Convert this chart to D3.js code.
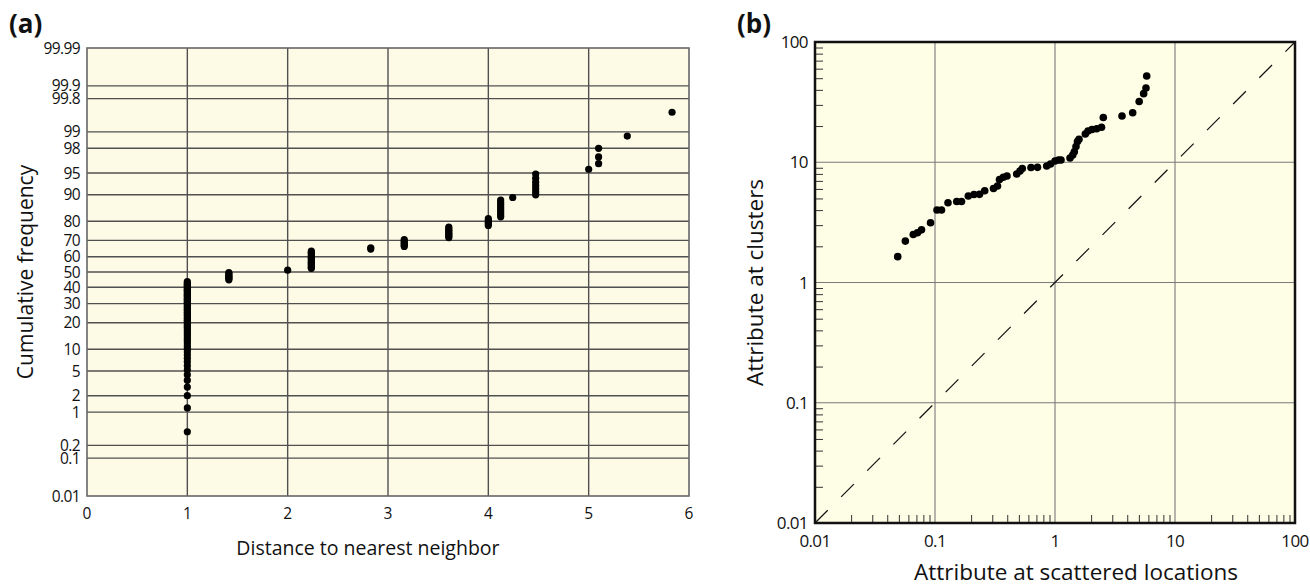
<!DOCTYPE html>
<html>
<head>
<meta charset="utf-8">
<script src="https://cdn.jsdelivr.net/npm/d3@7"></script>
<style>
  body { margin: 0; background: #ffffff; }
  svg { display: block; }
  text { font-family: "Open Sans", sans-serif; fill: #111; }
</style>
</head>
<body>
<svg id="chart" width="1310" height="586"></svg>
<script>
// ---------- Panel (a): nearest-neighbour distances on a probability scale ----------
const distances = [1, 1.414, 2, 2.236, 2.828, 3.162, 3.606, 4, 4.123, 4.243, 4.472, 5, 5.099, 5.385, 5.831];
// cumulative frequency (%) of every observation, grouped by distance
const cumFreq = [
  [0.4, 1.2, 2.0, 2.8, 3.6, 4.4, 5.2, 6.0, 6.8, 7.6, 8.4, 9.2, 10.0, 10.8, 11.6, 12.4, 13.2, 14.0, 14.8,
   15.6, 16.4, 17.2, 18.0, 18.8, 19.6, 20.4, 21.2, 22.0, 22.8, 23.6, 24.4, 25.2, 26.0, 26.8, 27.6, 28.4,
   29.2, 30.0, 30.8, 31.6, 32.4, 33.2, 34.0, 34.8, 35.6, 36.4, 37.2, 38.0, 38.8, 39.6, 40.4, 41.2, 42.0,
   42.8, 43.6],
  [44.8, 45.6, 46.4, 47.2, 48.0, 48.8, 49.6],
  [51.2],
  [52.4, 53.2, 54.0, 54.8, 55.6, 56.4, 57.2, 58.0, 58.8, 59.6, 60.4, 61.2, 62.0, 62.8, 63.6],
  [64.8, 65.6],
  [66.4, 67.2, 68.0, 68.8, 69.6, 70.4],
  [71.6, 72.4, 73.2, 74.0, 74.8, 75.6, 76.4, 77.2],
  [78.0, 78.8, 79.6, 80.4, 81.2],
  [82.0, 82.8, 83.6, 84.4, 85.2, 86.0, 86.8, 87.6, 88.4],
  [89.2],
  [90.0, 90.8, 91.6, 92.4, 93.2, 94.0, 94.8],
  [95.6],
  [96.4, 97.2, 98.0],
  [98.8],
  [99.6]
];
const probTicks = [0.01, 0.1, 0.2, 1, 2, 5, 10, 20, 30, 40, 50, 60, 70, 80, 90, 95, 98, 99, 99.8, 99.9, 99.99];
const probGrid = [0.1, 0.2, 1, 2, 5, 10, 20, 30, 40, 50, 60, 70, 80, 90, 95, 98, 99, 99.8, 99.9];
const distTicks = [0, 1, 2, 3, 4, 5, 6];
const distGrid = [1, 2, 3, 4, 5];

// ---------- Panel (b): attribute values, clusters vs scattered locations ----------
const scatteredVals = [0.0489, 0.0566, 0.0659, 0.0714, 0.0772, 0.0918, 0.1039, 0.1133, 0.1283, 0.1517,
  0.1663, 0.1895, 0.2113, 0.2349, 0.2596, 0.3073, 0.3318, 0.3447, 0.3708, 0.398, 0.4797, 0.5109, 0.534,
  0.631, 0.7146, 0.853, 0.917, 1.0, 1.07, 1.122, 1.334, 1.405, 1.448, 1.496, 1.54, 1.585, 1.789, 1.884,
  2.033, 2.226, 2.441, 2.527, 3.617, 4.44, 5.03, 5.48, 5.73, 5.81];
const clusterVals = [1.64, 2.21, 2.51, 2.59, 2.74, 3.14, 4.01, 4.01, 4.61, 4.72,
  4.72, 5.24, 5.39, 5.41, 5.80, 6.05, 6.34, 7.19, 7.50, 7.69, 7.98, 8.46, 8.87,
  9.04, 9.07, 9.31, 9.67, 10.24, 10.44, 10.44, 10.85, 11.49, 12.24, 13.52, 14.88, 15.52, 17.18, 18.2,
  18.72, 19.0, 19.53, 23.55, 24.24, 25.83, 32.0, 37.2, 41.4, 52.2];
const logTicks = [0.01, 0.1, 1, 10, 100];
const logGrid = [0.1, 1, 10];
const minorTicks = [];
for (let d = 0.01; d < 100; d *= 10) {
  for (let k = 2; k <= 9; k++) minorTicks.push(+(d * k).toPrecision(3));
}

// inverse standard normal CDF (Acklam's rational approximation)
function probit(p) {
  const a = [-39.69683028665376, 220.9460984245205, -275.9285104469687, 138.3577518672690, -30.66479806614716, 2.506628277459239];
  const b = [-54.47609879822406, 161.5858368580409, -155.6989798598866, 66.80131188771972, -13.28068155288572];
  const c = [-0.007784894002430293, -0.3223964580411365, -2.400758277161838, -2.549732539343734, 4.374664141464968, 2.938163982698783];
  const d = [0.007784695709041462, 0.3224671290700398, 2.445134137142996, 3.754408661907416];
  const pl = 0.02425, ph = 1 - pl;
  let q, r;
  if (p < pl) {
    q = Math.sqrt(-2 * Math.log(p));
    return (((((c[0]*q+c[1])*q+c[2])*q+c[3])*q+c[4])*q+c[5]) / ((((d[0]*q+d[1])*q+d[2])*q+d[3])*q+1);
  } else if (p <= ph) {
    q = p - 0.5; r = q * q;
    return (((((a[0]*r+a[1])*r+a[2])*r+a[3])*r+a[4])*r+a[5])*q / (((((b[0]*r+b[1])*r+b[2])*r+b[3])*r+b[4])*r+1);
  }
  q = Math.sqrt(-2 * Math.log(1 - p));
  return -(((((c[0]*q+c[1])*q+c[2])*q+c[3])*q+c[4])*q+c[5]) / ((((d[0]*q+d[1])*q+d[2])*q+d[3])*q+1);
}

const svg = d3.select("#chart");

// ================= Panel (a) =================
const A = { left: 87, right: 689, top: 48, bottom: 496 };
const xA = d3.scaleLinear().domain([0, 6]).range([A.left, A.right]);
const zA = d3.scaleLinear().domain([probit(0.0001), probit(0.9999)]).range([A.bottom, A.top]);
const yA = pct => zA(probit(pct / 100));

const gA = svg.append("g");
gA.append("rect")
  .attr("x", A.left).attr("y", A.top)
  .attr("width", A.right - A.left).attr("height", A.bottom - A.top)
  .attr("fill", "#fdfbe6");

gA.append("g").selectAll("line").data(probGrid).join("line")
  .attr("x1", A.left).attr("x2", A.right)
  .attr("y1", d => yA(d)).attr("y2", d => yA(d))
  .attr("stroke", "#505050").attr("stroke-width", 1.4);
gA.append("g").selectAll("line").data(distGrid).join("line")
  .attr("y1", A.top).attr("y2", A.bottom)
  .attr("x1", d => xA(d)).attr("x2", d => xA(d))
  .attr("stroke", "#505050").attr("stroke-width", 1.4);
gA.append("rect")
  .attr("x", A.left).attr("y", A.top)
  .attr("width", A.right - A.left).attr("height", A.bottom - A.top)
  .attr("fill", "none").attr("stroke", "#666").attr("stroke-width", 1.6);

const ptsA = [];
distances.forEach((dv, i) => cumFreq[i].forEach(f => ptsA.push([dv, f])));
gA.append("g").selectAll("circle").data(ptsA).join("circle")
  .attr("cx", d => xA(d[0])).attr("cy", d => yA(d[1]))
  .attr("r", 3.6).attr("fill", "#000");

// tick labels
gA.append("g").selectAll("text").data(probTicks).join("text")
  .attr("x", A.left - 7).attr("y", d => yA(d))
  .attr("dy", "0.36em").attr("text-anchor", "end")
  .attr("font-size", 15.5).attr("letter-spacing", -0.6)
  .text(d => String(d));
gA.append("g").selectAll("text").data(distTicks).join("text")
  .attr("x", d => xA(d)).attr("y", 519)
  .attr("text-anchor", "middle").attr("font-size", 15.5)
  .text(d => String(d));

gA.append("text")
  .attr("x", xA(2.8)).attr("y", 555)
  .attr("text-anchor", "middle").attr("font-size", 19.5)
  .text("Distance to nearest neighbor");
gA.append("text")
  .attr("transform", `translate(33,${yA(50)}) rotate(-90)`)
  .attr("text-anchor", "middle").attr("font-size", 21)
  .text("Cumulative frequency");
gA.append("text")
  .attr("x", 9).attr("y", 33)
  .attr("font-size", 26).attr("font-weight", "bold")
  .text("(a)");

// ================= Panel (b) =================
const B = { left: 815, right: 1295, top: 42, bottom: 523 };
const xB = d3.scaleLog().domain([0.01, 100]).range([B.left, B.right]);
const yB = d3.scaleLog().domain([0.01, 100]).range([B.bottom, B.top]);

const gB = svg.append("g");
gB.append("rect")
  .attr("x", B.left).attr("y", B.top)
  .attr("width", B.right - B.left).attr("height", B.bottom - B.top)
  .attr("fill", "#fefde6");

gB.append("g").selectAll("line").data(logGrid).join("line")
  .attr("x1", B.left).attr("x2", B.right)
  .attr("y1", d => yB(d)).attr("y2", d => yB(d))
  .attr("stroke", "#7a7a7a").attr("stroke-width", 1.1);
gB.append("g").selectAll("line").data(logGrid).join("line")
  .attr("y1", B.top).attr("y2", B.bottom)
  .attr("x1", d => xB(d)).attr("x2", d => xB(d))
  .attr("stroke", "#7a7a7a").attr("stroke-width", 1.1);

// minor ticks pointing into the plot
gB.append("g")
  .attr("transform", `translate(0,${B.bottom})`)
  .call(d3.axisBottom(xB).tickValues(minorTicks).tickSize(-8).tickFormat(""))
  .call(g => g.select(".domain").remove())
  .call(g => g.selectAll(".tick line").attr("stroke", "#333").attr("stroke-width", 1));
gB.append("g")
  .attr("transform", `translate(${B.left},0)`)
  .call(d3.axisLeft(yB).tickValues(minorTicks).tickSize(-8).tickFormat(""))
  .call(g => g.select(".domain").remove())
  .call(g => g.selectAll(".tick line").attr("stroke", "#333").attr("stroke-width", 1));

// 1:1 reference line
gB.append("line")
  .attr("x1", xB(0.01)).attr("y1", yB(0.01))
  .attr("x2", xB(100)).attr("y2", yB(100))
  .attr("stroke", "#111").attr("stroke-width", 1.2)
  .attr("stroke-dasharray", "18,19");

gB.append("g").selectAll("circle").data(scatteredVals.map((v, i) => [v, clusterVals[i]])).join("circle")
  .attr("cx", d => xB(d[0])).attr("cy", d => yB(d[1]))
  .attr("r", 3.8).attr("fill", "#000");

gB.append("rect")
  .attr("x", B.left).attr("y", B.top)
  .attr("width", B.right - B.left).attr("height", B.bottom - B.top)
  .attr("fill", "none").attr("stroke", "#111").attr("stroke-width", 2.5);

gB.append("g").selectAll("text").data(logTicks).join("text")
  .attr("x", B.left - 7).attr("y", d => yB(d))
  .attr("dy", "0.36em").attr("text-anchor", "end")
  .attr("font-size", 17).attr("letter-spacing", -0.6)
  .text(d => String(d));
gB.append("g").selectAll("text").data(logTicks).join("text")
  .attr("x", d => xB(d)).attr("y", 547)
  .attr("text-anchor", "middle").attr("font-size", 17).attr("letter-spacing", -0.6)
  .text(d => String(d));

gB.append("text")
  .attr("x", 1076).attr("y", 580)
  .attr("text-anchor", "middle").attr("font-size", 22.5)
  .text("Attribute at scattered locations");
gB.append("text")
  .attr("transform", `translate(763,${yB(1)}) rotate(-90)`)
  .attr("text-anchor", "middle").attr("font-size", 22.5)
  .text("Attribute at clusters");
gB.append("text")
  .attr("x", 737).attr("y", 33)
  .attr("font-size", 26).attr("font-weight", "bold")
  .text("(b)");
</script>
</body>
</html>
